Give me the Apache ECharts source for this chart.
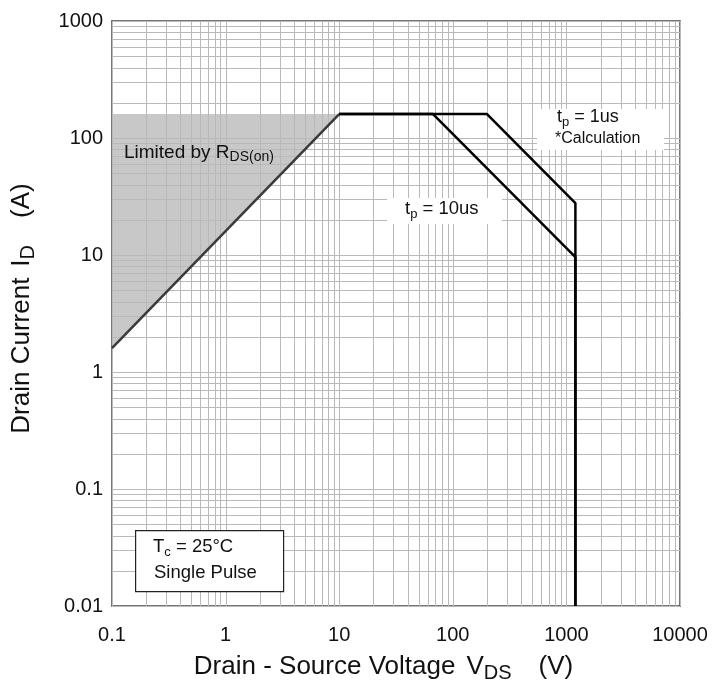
<!DOCTYPE html>
<html>
<head>
<meta charset="utf-8">
<script src="https://cdn.jsdelivr.net/npm/echarts@6/dist/echarts.min.js"></script>
<style>
  html, body { margin: 0; padding: 0; background: #fff; }
  #chart { width: 717px; height: 693px; }
</style>
</head>
<body>
<div id="chart"></div>
<script>
// Safe operating area, log-log
const xRange = [0.1, 10000];
const yRange = [0.01, 1000];
const xTickLabels = ['0.1', '1', '10', '100', '1000', '10000'];
const yTickLabels = ['0.01', '0.1', '1', '10', '100', '1000'];

// R_DS(on) limit line
const rdsV = [0.1, 10];
const rdsI = [1.6, 160];

// tp = 10us boundary
const tp10V = [10, 67, 1200, 1200];
const tp10I = [160, 160, 9.6, 0.01];

// tp = 1us boundary
const tp1V = [10, 200, 1200, 1200];
const tp1I = [160, 160, 27.8, 0.01];

const FONT = '"Liberation Sans", Arial, sans-serif';

function zip(a, b) { return a.map((v, i) => [v, b[i]]); }

// 1..9 x 10^k grid values across a log range
function logGridValues(lo, hi) {
  const out = [];
  for (let e = Math.round(Math.log10(lo)); e < Math.round(Math.log10(hi)); e++) {
    for (let m = 1; m <= 9; m++) out.push(m * Math.pow(10, e));
  }
  out.push(hi);
  return out;
}
const xGrid = logGridValues(xRange[0], xRange[1]);
const yGrid = logGridValues(yRange[0], yRange[1]);

function labelFor(list) {
  return function (v) {
    const s = list.find(t => Math.abs(Math.log10(parseFloat(t)) - Math.log10(v)) < 1e-6);
    return s || '';
  };
}

function subRich(main, sub, lh) {
  return {
    n: { fontSize: main, fontFamily: FONT, fill: '#111', color: '#111', lineHeight: lh, verticalAlign: 'middle' },
    s: { fontSize: sub, fontFamily: FONT, fill: '#111', color: '#111', lineHeight: lh, verticalAlign: 'bottom' }
  };
}

// axis title styles: symbol set apart from the words and the unit
function titleRich() {
  const r = subRich(26, 20, 32);
  r.v = Object.assign({}, r.n, { padding: [0, 0, 0, 11] });
  r.u = Object.assign({}, r.n, { padding: [0, 0, 0, 27] });
  return r;
}

const chart = echarts.init(document.getElementById('chart'), null, { renderer: 'canvas' });

const gridLineStyle = { stroke: '#b9b9b9', lineWidth: 1 };
const frameLine = { show: true, onZero: false, lineStyle: { color: '#4a4a4a', width: 1.5 } };

const option = {
  animation: false,
  backgroundColor: '#ffffff',
  grid: { left: 112, right: 37, top: 21, bottom: 87 },
  xAxis: [{
    type: 'log', logBase: 10, min: xRange[0], max: xRange[1],
    splitLine: { show: false }, axisTick: { show: false }, axisLine: frameLine,
    axisLabel: { formatter: labelFor(xTickLabels), fontSize: 20, color: '#111', fontFamily: FONT, margin: 19 },
    name: '{n|Drain - Source Voltage}{v|V}{s|DS}{u|(V)}',
    nameLocation: 'middle', nameGap: 45,
    nameTextStyle: { padding: [0, 25, 0, 0], rich: titleRich() }
  }, {
    type: 'log', logBase: 10, min: xRange[0], max: xRange[1], position: 'top',
    splitLine: { show: false }, axisTick: { show: false }, axisLabel: { show: false }, axisLine: frameLine
  }],
  yAxis: [{
    type: 'log', logBase: 10, min: yRange[0], max: yRange[1],
    splitLine: { show: false }, axisTick: { show: false }, axisLine: frameLine,
    axisLabel: { formatter: labelFor(yTickLabels), fontSize: 20, color: '#111', fontFamily: FONT, margin: 9 },
    name: '{n|Drain Current}{v|I}{s|D}{u|(A)}',
    nameLocation: 'middle', nameGap: 74, nameRotate: 90,
    nameTextStyle: { padding: [0, 0, 0, 10], rich: titleRich() }
  }, {
    type: 'log', logBase: 10, min: yRange[0], max: yRange[1], position: 'right',
    splitLine: { show: false }, axisTick: { show: false }, axisLabel: { show: false }, axisLine: frameLine
  }],
  series: [
    {
      // shaded region bounded by the R_DS(on) limit and the current ceiling
      type: 'custom', name: 'rdsArea', silent: true, z: 1,
      data: [[rdsV[0], rdsI[0]]],
      renderItem: function (params, api) {
        const pts = [
          api.coord([rdsV[0], rdsI[1]]),
          api.coord([rdsV[1], rdsI[1]]),
          api.coord([rdsV[0], rdsI[0]])
        ];
        return { type: 'polygon', shape: { points: pts }, style: { fill: '#c8c8c8' } };
      }
    },
    {
      type: 'custom', name: 'vgrid', silent: true, z: 2,
      data: xGrid.map(v => [v, yRange[0]]),
      renderItem: function (params, api) {
        const v = api.value(0);
        const a = api.coord([v, yRange[0]]);
        const b = api.coord([v, yRange[1]]);
        return { type: 'line', shape: { x1: Math.round(a[0]) + 0.5, y1: a[1], x2: Math.round(b[0]) + 0.5, y2: b[1] }, style: gridLineStyle };
      }
    },
    {
      type: 'custom', name: 'hgrid', silent: true, z: 2,
      data: yGrid.map(v => [xRange[0], v]),
      renderItem: function (params, api) {
        const v = api.value(1);
        const a = api.coord([xRange[0], v]);
        const b = api.coord([xRange[1], v]);
        return { type: 'line', shape: { x1: a[0], y1: Math.round(a[1]) + 0.5, x2: b[0], y2: Math.round(b[1]) + 0.5 }, style: gridLineStyle };
      }
    },
    {
      type: 'line', name: 'RDS(on)', z: 5, data: zip(rdsV, rdsI),
      showSymbol: false, lineStyle: { color: '#3a3a3a', width: 2.5 }
    },
    {
      type: 'line', name: 'tp = 10us', z: 5, data: zip(tp10V, tp10I),
      showSymbol: false, lineStyle: { color: '#000', width: 2.5 }
    },
    {
      type: 'line', name: 'tp = 1us', z: 5, data: zip(tp1V, tp1I),
      showSymbol: false, lineStyle: { color: '#000', width: 2.5 }
    }
  ],
  graphic: [
    {
      type: 'text', left: 124, top: 143, z: 20,
      style: { text: '{n|Limited by R}{s|DS(on)}', rich: subRich(19, 14, 24) }
    },
    {
      type: 'rect', left: 537, top: 109, z: 15,
      shape: { width: 127, height: 41 }, style: { fill: '#fff' }
    },
    {
      type: 'text', left: 557, top: 108, z: 20,
      style: { text: '{n|t}{s|p}{n| = 1us}', rich: subRich(18, 13, 24) }
    },
    {
      type: 'text', left: 555, top: 129, z: 20,
      style: { text: '*Calculation', fontSize: 16, lineHeight: 20, fontFamily: FONT, fill: '#111' }
    },
    {
      type: 'rect', left: 387, top: 198, z: 15,
      shape: { width: 115, height: 26 }, style: { fill: '#fff' }
    },
    {
      type: 'text', left: 405, top: 199, z: 20,
      style: { text: '{n|t}{s|p}{n| = 10us}', rich: subRich(18.5, 13, 24) }
    },
    {
      type: 'rect', left: 135, top: 530, z: 15,
      shape: { width: 148, height: 61 }, style: { fill: '#fff', stroke: '#222', lineWidth: 1.2 }
    },
    {
      type: 'text', left: 153, top: 537, z: 20,
      style: { text: '{n|T}{s|c}{n| = 25°C}', rich: subRich(18.5, 13, 24) }
    },
    {
      type: 'text', left: 154, top: 561, z: 20,
      style: { text: 'Single Pulse', fontSize: 18.5, lineHeight: 24, fontFamily: FONT, fill: '#111' }
    }
  ]
};

chart.setOption(option);
</script>
</body>
</html>
